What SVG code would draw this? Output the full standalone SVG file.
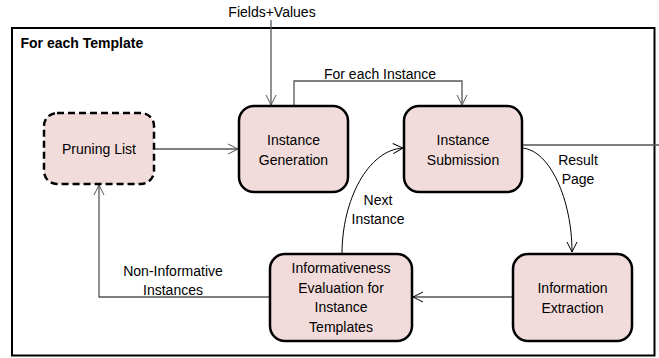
<svg xmlns="http://www.w3.org/2000/svg" width="659" height="358" viewBox="0 0 659 358">
<defs>
<marker id="arr" viewBox="0 0 12 12" refX="11" refY="6" markerWidth="12" markerHeight="12" markerUnits="userSpaceOnUse" orient="auto">
<polyline points="1,1 11,6 1,11" fill="none" stroke="#000" stroke-width="1"/>
</marker>
<marker id="arrg" viewBox="0 0 12 12" refX="11" refY="6" markerWidth="12" markerHeight="12" markerUnits="userSpaceOnUse" orient="auto">
<polyline points="1,1 11,6 1,11" fill="none" stroke="#555" stroke-width="1"/>
</marker>
</defs>
<style>
text{font-family:"Liberation Sans",Arial,sans-serif;font-size:14px;fill:#000}
.c{text-anchor:middle}
.node{fill:#f2dcdb;stroke:#000;stroke-width:2.5}
.dash{stroke-dasharray:7,4}
.ln{fill:none;stroke:#000;stroke-width:1}
.gl{fill:none;stroke:#555;stroke-width:1.3}
</style>
<rect width="659" height="358" fill="#fff"/>
<g id="frame">
<rect x="12" y="28" width="642.5" height="327.5" fill="none" stroke="#000" stroke-width="2"/>
<text x="20.5" y="48" font-weight="bold">For each Template</text>
</g>
<g id="connectors">
<text x="272" y="17" class="c">Fields+Values</text>
<line x1="271" y1="20" x2="271" y2="105" class="gl" marker-end="url(#arrg)"/>
<line x1="155" y1="149" x2="238" y2="149" class="gl" marker-end="url(#arrg)"/>
<polyline points="294,106 294,81 462,81 462,105" class="gl" marker-end="url(#arrg)"/>
<text x="380" y="79" class="c">For each Instance</text>
<line x1="522" y1="145" x2="659" y2="145" class="gl"/>
<path d="M522,148 C550,150 572,200 572,252" class="ln" marker-end="url(#arr)"/>
<text x="578" y="165" class="c">Result</text>
<text x="578" y="184" class="c">Page</text>
<line x1="513" y1="297" x2="413" y2="297" class="ln" marker-end="url(#arr)"/>
<path d="M342,254 C342,200 368,150 403,148" class="ln" marker-end="url(#arr)"/>
<text x="378" y="205" class="c">Next</text>
<text x="378" y="224" class="c">Instance</text>
<polyline points="270,297 99,297 99,185" class="gl" marker-end="url(#arrg)"/>
<text x="173" y="276" class="c">Non-Informative</text>
<text x="173" y="295" class="c">Instances</text>
</g>
<g id="pruning">
<rect x="44" y="113" width="110" height="71" rx="13" class="node dash"/>
<text x="99" y="154" class="c">Pruning List</text>
</g>
<g id="generation">
<rect x="239" y="106" width="109" height="86" rx="15" class="node"/>
<text x="293.5" y="145" class="c">Instance</text>
<text x="293.5" y="165" class="c">Generation</text>
</g>
<g id="submission">
<rect x="404" y="106" width="118" height="86" rx="15" class="node"/>
<text x="463" y="145" class="c">Instance</text>
<text x="463" y="165" class="c">Submission</text>
</g>
<g id="extraction">
<rect x="513" y="254" width="119" height="87" rx="15" class="node"/>
<text x="572.5" y="293" class="c">Information</text>
<text x="572.5" y="313" class="c">Extraction</text>
</g>
<g id="evaluation">
<rect x="270" y="254" width="142" height="87" rx="15" class="node"/>
<text x="341" y="273" class="c">Informativeness</text>
<text x="341" y="292.5" class="c">Evaluation for</text>
<text x="341" y="312" class="c">Instance</text>
<text x="341" y="331.5" class="c">Templates</text>
</g>
</svg>
